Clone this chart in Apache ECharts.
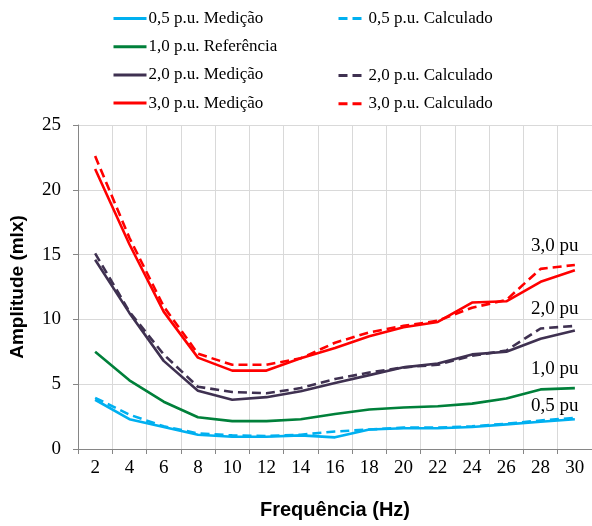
<!DOCTYPE html>
<html>
<head>
<meta charset="utf-8">
<script src="https://cdn.jsdelivr.net/npm/echarts@6/dist/echarts.min.js"></script>
<style>
    html, body { margin: 0; padding: 0; background: #fff; }
    #main { width: 592px; height: 526px; }
</style>
</head>
<body>
<div id="main"></div>
<script>
// frequências (Hz)
var cats = ['2', '4', '6', '8', '10', '12', '14', '16', '18', '20', '22', '24', '26', '28', '30'];

var med05 = [3.8, 2.3, 1.7, 1.1, 0.95, 0.95, 1.05, 0.9, 1.5, 1.6, 1.6, 1.7, 1.9, 2.1, 2.3];
var calc05 = [3.95, 2.65, 1.75, 1.2, 1.05, 1.0, 1.1, 1.35, 1.5, 1.65, 1.65, 1.75, 1.95, 2.2, 2.4];
var ref10 = [7.5, 5.3, 3.65, 2.45, 2.15, 2.15, 2.3, 2.7, 3.05, 3.2, 3.3, 3.5, 3.9, 4.6, 4.7];
var med20 = [14.6, 10.5, 6.8, 4.5, 3.8, 4.0, 4.45, 5.1, 5.7, 6.3, 6.6, 7.3, 7.5, 8.5, 9.15];
var calc20 = [15.1, 10.6, 7.3, 4.8, 4.4, 4.3, 4.7, 5.4, 5.9, 6.3, 6.5, 7.2, 7.6, 9.3, 9.5];
var med30 = [21.6, 15.8, 10.6, 7.05, 6.05, 6.05, 7.0, 7.8, 8.7, 9.4, 9.8, 11.3, 11.4, 12.9, 13.8];
var calc30 = [22.6, 16.3, 11.0, 7.35, 6.5, 6.5, 7.0, 8.2, 9.0, 9.5, 9.9, 10.9, 11.5, 13.9, 14.2];

var yTicks = [0, 5, 10, 15, 20, 25];

// rótulos do lado direito (texto, valor)
var tagText = ['3,0 pu', '2,0 pu', '1,0 pu', '0,5 pu'];
var tagVal = [15.65, 10.8, 6.2, 3.3];

var cyan = '#00b0f0', green = '#00803a', purple = '#3f3151', red = '#ff0000';
var serif = '"Liberation Serif", "Times New Roman", serif';
var sans = '"Liberation Sans", Arial, sans-serif';
var dash = [9, 5];

function tag(i) {
    return {
        symbol: 'rect',
        symbolSize: 1,
        silent: true,
        itemStyle: { color: 'rgba(0,0,0,0)' },
        data: [{
            coord: ['30', tagVal[i]],
            label: {
                show: true,
                formatter: tagText[i],
                position: 'inside',
                offset: [-20, 0],
                color: '#000',
                fontFamily: serif,
                fontSize: 19
            }
        }]
    };
}

function line(name, data, color, dashed, mp) {
    var s = {
        name: name,
        type: 'line',
        data: data,
        symbol: 'none',
        smooth: false,
        lineStyle: { color: color, width: 2.6, type: dashed ? dash : 'solid' },
        itemStyle: { color: color },
        z: dashed ? 3 : 2
    };
    if (mp) s.markPoint = mp;
    return s;
}

var legendBase = {
    orient: 'vertical',
    itemHeight: 16,
    itemGap: 11.2,
    itemStyle: { opacity: 0 },
    lineStyle: { width: 3 },
    textStyle: { fontFamily: serif, fontSize: 17, color: '#000', lineHeight: 16, padding: [0, 0, 0, -3] },
    selectedMode: false
};

var myChart = echarts.init(document.getElementById('main'));
myChart.setOption({
    animation: false,
    backgroundColor: '#fff',
    legend: [
        Object.assign({}, legendBase, {
            left: 107, top: 5, itemWidth: 33,
            data: ['0,5 p.u. Medição', '1,0 p.u. Referência', '2,0 p.u. Medição', '3,0 p.u. Medição']
        }),
        Object.assign({}, legendBase, {
            left: 332, top: 5, itemWidth: 28,
            data: ['0,5 p.u. Calculado']
        }),
        Object.assign({}, legendBase, {
            left: 332, top: 62, itemWidth: 28,
            data: ['2,0 p.u. Calculado', '3,0 p.u. Calculado']
        })
    ],
    grid: { left: 77, top: 125, width: 517, height: 324 },
    xAxis: {
        type: 'category',
        data: cats,
        boundaryGap: true,
        name: 'Frequência (Hz)',
        nameLocation: 'middle',
        nameGap: 51,
        nameTextStyle: { fontFamily: sans, fontWeight: 'bold', fontSize: 20, color: '#000' },
        axisLine: { lineStyle: { color: '#868686', width: 1 } },
        axisTick: { show: true, length: 5, lineStyle: { color: '#868686' } },
        axisLabel: { fontFamily: serif, fontSize: 19, color: '#000', margin: 10 },
        splitLine: { show: true, lineStyle: { color: '#d9d9d9', width: 1 } }
    },
    yAxis: {
        type: 'value',
        min: 0,
        max: 25,
        interval: 5,
        name: 'Amplitude (mlx)',
        nameLocation: 'middle',
        nameGap: 51,
        nameTextStyle: { fontFamily: sans, fontWeight: 'bold', fontSize: 19, color: '#000' },
        axisLine: { show: true, lineStyle: { color: '#868686', width: 1 } },
        axisTick: { show: true, length: 5, lineStyle: { color: '#868686' } },
        axisLabel: {
            fontFamily: serif, fontSize: 19, color: '#000', margin: 17,
            formatter: function (v) { return yTicks.indexOf(v) >= 0 ? String(v) : ''; }
        },
        splitLine: { show: true, lineStyle: { color: '#d9d9d9', width: 1 } }
    },
    series: [
        line('0,5 p.u. Medição', med05, cyan, false, tag(3)),
        line('0,5 p.u. Calculado', calc05, cyan, true),
        line('1,0 p.u. Referência', ref10, green, false, tag(2)),
        line('2,0 p.u. Medição', med20, purple, false, tag(1)),
        line('2,0 p.u. Calculado', calc20, purple, true),
        line('3,0 p.u. Medição', med30, red, false, tag(0)),
        line('3,0 p.u. Calculado', calc30, red, true)
    ]
});
</script>
</body>
</html>
